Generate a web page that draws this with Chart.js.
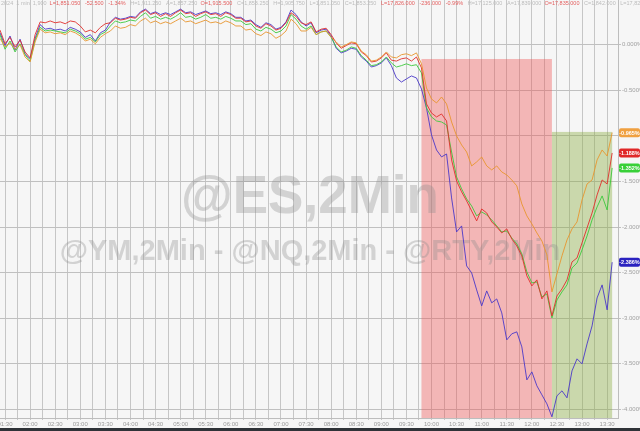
<!DOCTYPE html>
<html>
<head>
<meta charset="utf-8">
<style>
  html, body { margin: 0; padding: 0; background: #2f3338; }
  #wrap { width: 640px; height: 428px; background: #f6f6f6; }
  canvas { display: block; }
</style>
<script src="https://cdn.jsdelivr.net/npm/chart.js@4.4.1/dist/chart.umd.min.js"></script>
</head>
<body>
<div id="wrap"><canvas id="chart" width="640" height="428"></canvas></div>
<script>
// 2-minute futures, sampled every 6 minutes, % change from prior close
const startMinute = -6;
const stepMinutes = 6;

const timeLabels = ['01:30', '02:00', '02:30', '03:00', '03:30', '04:00', '04:30', '05:00', '05:30',
  '06:00', '06:30', '07:00', '07:30', '08:00', '08:30', '09:00', '09:30', '10:00', '10:30',
  '11:00', '11:30', '12:00', '12:30', '13:00', '13:30'];

const esValues = [0.16, 0.01, 0.08, -0.025, 0.05, -0.08, -0.145, 0.11, 0.25,
  0.24, 0.26, 0.24, 0.25, 0.23, 0.26, 0.25, 0.205, 0.14, 0.16, 0.13, 0.19, 0.23,
  0.24, 0.29, 0.27, 0.28, 0.30, 0.29, 0.35, 0.38, 0.33, 0.35, 0.31, 0.34, 0.31, 0.35, 0.38, 0.34, 0.35, 0.31,
  0.34, 0.36, 0.33, 0.34, 0.31, 0.35, 0.33, 0.29, 0.29, 0.25, 0.26, 0.205, 0.18, 0.23, 0.205, 0.16, 0.18,
  0.24, 0.35, 0.31, 0.24,
  0.22, 0.25, 0.14, 0.17, 0.18, 0.11,
  0.02, -0.04, -0.01, 0.02, 0.01, -0.08, -0.12, -0.19, -0.18, -0.145, -0.09,
  -0.17, -0.18, -0.155, -0.145, -0.18, -0.135, -0.255,
  -0.650, -0.749, -0.793, -0.760, -0.837, -1.264, -1.495, -1.615, -1.714, -1.824, -1.933, -1.802, -1.846,
  -1.944, -1.999, -2.065, -2.021, -2.131, -2.207, -2.317, -2.536, -2.646, -2.580, -2.789, -2.701, -2.975,
  -2.756, -2.679, -2.580, -2.383, -2.339, -2.174, -2.010, -1.846, -1.648, -1.484, -1.528, -1.188];

const nqValues = [0.13, -0.01, 0.095, -0.06, 0.06, -0.10, -0.155, 0.07, 0.22,
  0.17, 0.18, 0.16, 0.17, 0.15, 0.19, 0.17, 0.14, 0.08, 0.11, 0.04, 0.13, 0.16,
  0.25, 0.30, 0.28, 0.29, 0.31, 0.30, 0.36, 0.39, 0.34, 0.36, 0.33, 0.35, 0.33, 0.36, 0.39, 0.35, 0.36, 0.33,
  0.35, 0.37, 0.34, 0.35, 0.33, 0.36, 0.34, 0.30, 0.30, 0.26, 0.27, 0.22, 0.19, 0.24, 0.22, 0.17, 0.19,
  0.25, 0.38, 0.33, 0.25,
  0.205, 0.24, 0.13, 0.16, 0.17, 0.095,
  -0.04, -0.09, -0.07, -0.04, -0.05, -0.135, -0.18, -0.245, -0.23, -0.20, -0.145,
  -0.23, -0.365, -0.41, -0.376, -0.343, -0.365, -0.486,
  -0.694, -0.990, -1.155, -1.231, -1.199, -1.681, -2.054, -1.988, -2.427, -2.503, -2.690, -2.865, -2.701,
  -2.832, -2.789, -2.942, -3.238, -3.172, -3.150, -3.315, -3.677, -3.589, -3.742, -3.841, -3.940, -4.082,
  -3.852, -3.797, -3.874, -3.578, -3.446, -3.501, -3.282, -3.085, -2.778, -2.635, -2.909, -2.386];

const rtyValues = [0.11, -0.05, 0.04, -0.08, 0.01, -0.11, -0.18, 0.05, 0.19,
  0.15, 0.16, 0.15, 0.14, 0.13, 0.17, 0.15, 0.12, 0.06, 0.08, 0.03, 0.11, 0.14,
  0.205, 0.26, 0.24, 0.25, 0.27, 0.26, 0.31, 0.35, 0.29, 0.31, 0.28, 0.30, 0.28, 0.31, 0.35, 0.30, 0.31, 0.28,
  0.30, 0.33, 0.29, 0.30, 0.28, 0.31, 0.29, 0.26, 0.26, 0.22, 0.23, 0.17, 0.15, 0.19, 0.17, 0.13, 0.15,
  0.205, 0.33, 0.28, 0.205,
  0.17, 0.205, 0.11, 0.14, 0.15, 0.08,
  -0.025, -0.08, -0.06, -0.025, -0.04, -0.12, -0.17, -0.23, -0.22, -0.19, -0.135,
  -0.20, -0.245, -0.23, -0.21, -0.23, -0.22, -0.31,
  -0.694, -0.793, -0.837, -0.848, -0.881, -1.177, -1.451, -1.582, -1.692, -1.769, -1.878, -1.835, -1.867,
  -1.922, -1.988, -2.054, -2.043, -2.120, -2.185, -2.295, -2.492, -2.613, -2.602, -2.767, -2.734, -2.997,
  -2.800, -2.712, -2.635, -2.449, -2.394, -2.251, -2.098, -1.922, -1.780, -1.659, -1.813, -1.352];

const ymValues = [0.07, -0.025, 0.02, -0.05, 0.00, -0.135, -0.19, 0.03, 0.17,
  0.13, 0.14, 0.12, 0.13, 0.11, 0.15, 0.13, 0.095, 0.04, 0.06, 0.01, 0.08, 0.12,
  0.15, 0.205, 0.18, 0.19, 0.22, 0.205, 0.26, 0.29, 0.24, 0.26, 0.23, 0.25, 0.23, 0.26, 0.29, 0.25, 0.26, 0.23,
  0.25, 0.27, 0.24, 0.25, 0.23, 0.26, 0.24, 0.205, 0.205, 0.16, 0.17, 0.12, 0.10, 0.14, 0.12, 0.07, 0.10,
  0.15, 0.28, 0.23, 0.15,
  0.15, 0.19, 0.11, 0.14, 0.15, 0.08,
  0.03, -0.025, 0.00, 0.03, 0.02, -0.07, -0.11, -0.18, -0.17, -0.135, -0.08,
  -0.135, -0.145, -0.11, -0.10, -0.12, -0.09, -0.21,
  -0.475, -0.596, -0.639, -0.574, -0.650, -0.848, -1.001, -1.100, -1.177, -1.330, -1.286, -1.232, -1.330,
  -1.374, -1.330, -1.396, -1.429, -1.484, -1.549, -1.747, -1.878, -1.966, -2.065, -2.153, -2.306, -2.712,
  -2.514, -2.317, -2.142, -2.021, -1.944, -1.703, -1.528, -1.484, -1.264, -1.155, -1.221, -0.965];

// shaded sessions: [from minute, to minute, top %]
const selloffZone = [498, 654, -0.157];
const reboundZone = [654, 726, -0.957];

const headerItems = [
  ['2024  1 min  1,900  ', '#bcbcbc'], ['L=1,851.050   -52.500   -1.34%', '#e46060'],
  ['   H=1,911.250   A=1,857.250  ', '#bcbcbc'], ['O=1,915.500', '#e46060'],
  ['   C=1,853.250   H=1,905.750   L=1,851.050   C=1,853.250   ', '#bcbcbc'],
  ['L=17,826.000   -236.000   -0.99%', '#e46060'], ['   H=17,125.000   A=17,839.000  ', '#bcbcbc'],
  ['O=17,835.000', '#e46060'], ['   C=1,842.000   L=17,826.000   H=18,062.000   MIN   2 min', '#bcbcbc']
];

const toPoints = vals => vals.map((v, i) => ({ x: startMinute + i * stepMinutes, y: v }));

const series = [
  { label: '@YM', values: ymValues, color: '#e8952e', box: '#f0a040' },
  { label: '@ES', values: esValues, color: '#e0302c', box: '#e02828' },
  { label: '@RTY', values: rtyValues, color: '#3cc83c', box: '#38d038' },
  { label: '@NQ', values: nqValues, color: '#4a38c8', box: '#2a22c0' }
];

const backdrop = {
  id: 'backdrop',
  beforeDatasetsDraw(chart) {
    const { ctx, chartArea: a, scales: { x, y } } = chart;
    ctx.save();
    ctx.fillStyle = 'rgba(240,80,80,0.38)';
    ctx.fillRect(x.getPixelForValue(selloffZone[0]), y.getPixelForValue(selloffZone[2]),
      x.getPixelForValue(selloffZone[1]) - x.getPixelForValue(selloffZone[0]),
      a.bottom - y.getPixelForValue(selloffZone[2]));
    ctx.fillStyle = 'rgba(140,175,70,0.42)';
    ctx.fillRect(x.getPixelForValue(reboundZone[0]), y.getPixelForValue(reboundZone[2]),
      x.getPixelForValue(reboundZone[1]) - x.getPixelForValue(reboundZone[0]),
      a.bottom - y.getPixelForValue(reboundZone[2]));
    // watermark
    ctx.fillStyle = 'rgba(140,140,140,0.34)';
    ctx.textAlign = 'center';
    ctx.textBaseline = 'alphabetic';
    ctx.font = 'bold 53px "Liberation Sans", Arial, sans-serif';
    ctx.fillText('@ES,2Min', 310, 213);
    ctx.font = 'bold 29px "Liberation Sans", Arial, sans-serif';
    ctx.fillText('@YM,2Min - @NQ,2Min - @RTY,2Min', 310, 260);
    ctx.restore();
  },
  afterDraw(chart) {
    const { ctx, chartArea: a, scales: { y } } = chart;
    ctx.save();
    ctx.font = '5.5px "Liberation Sans", Arial, sans-serif';
    ctx.textBaseline = 'middle';
    ctx.textAlign = 'left';
    let hx = 1;
    headerItems.forEach(([t, c]) => {
      ctx.fillStyle = c;
      ctx.fillText(t, hx, 3.5);
      hx += ctx.measureText(t).width;
    });
    ctx.font = 'bold 5.5px "Liberation Sans", Arial, sans-serif';
    ctx.textAlign = 'center';
    series.forEach(s => {
      const v = s.values[s.values.length - 1];
      const py = y.getPixelForValue(v);
      ctx.fillStyle = s.box;
      ctx.beginPath();
      ctx.roundRect(a.right + 1, py - 4.5, 21, 9, 2);
      ctx.fill();
      ctx.fillStyle = '#ffffff';
      ctx.fillText(v.toFixed(3) + '%', a.right + 11.5, py + 0.5);
    });
    ctx.restore();
  }
};

new Chart(document.getElementById('chart'), {
  type: 'line',
  data: {
    datasets: series.map(s => ({
      label: s.label,
      data: toPoints(s.values),
      borderColor: s.color,
      borderWidth: 0.9,
      pointRadius: 0,
      tension: 0,
      fill: false
    }))
  },
  options: {
    responsive: false,
    animation: false,
    layout: { padding: 0 },
    plugins: { legend: { display: false }, tooltip: { enabled: false } },
    scales: {
      x: {
        type: 'linear',
        min: -6,
        max: 733,
        afterFit(scale) { scale.height = 10; scale.paddingLeft = 0; scale.paddingRight = 0; },
        grid: { color: '#c6c6c6', lineWidth: 1, tickLength: 2 },
        border: { color: '#bdbdbd' },
        ticks: {
          stepSize: 15,
          includeBounds: false,
          autoSkip: false,
          maxRotation: 0,
          padding: 1,
          color: '#9a9a9a',
          font: { size: 6, family: '"Liberation Sans", Arial, sans-serif' },
          callback: v => (v % 30 === 0 ? timeLabels[v / 30] || '' : '')
        }
      },
      y: {
        position: 'right',
        min: -4.095,
        max: 0.49,
        afterFit(scale) { scale.width = 22; scale.paddingTop = 0; scale.paddingBottom = 0; },
        grid: { color: '#c0c0c0', lineWidth: 1, tickLength: 3 },
        border: { color: '#bdbdbd' },
        ticks: {
          stepSize: 0.5,
          includeBounds: false,
          padding: 1,
          color: '#a0a0a0',
          font: { size: 6, family: '"Liberation Sans", Arial, sans-serif' },
          callback: v => v.toFixed(3) + '%'
        }
      }
    }
  },
  plugins: [backdrop]
});
</script>
</body>
</html>
